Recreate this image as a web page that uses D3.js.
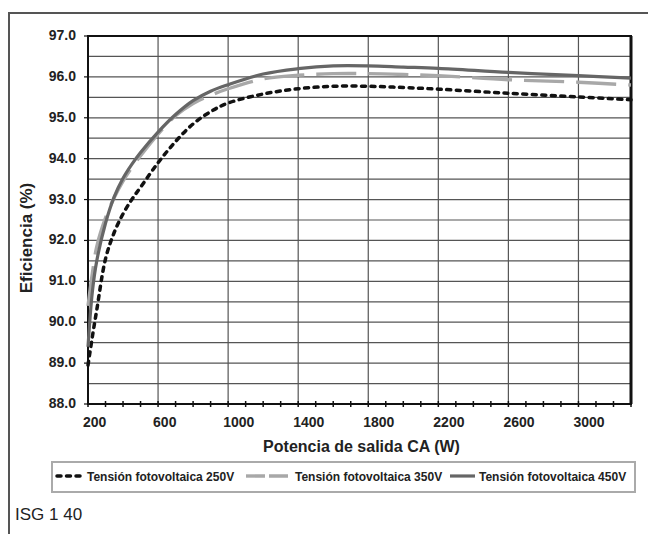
<!DOCTYPE html>
<html>
<head>
<meta charset="utf-8">
<script src="https://cdn.jsdelivr.net/npm/d3@7"></script>
<style>
  body { margin: 0; background: #fff; }
  svg { display: block; font-family: "Liberation Sans", Arial, sans-serif; }
</style>
</head>
<body>
<div id="chart"></div>
<script>
// potencia de salida (W) y eficiencia (%)
const power = [200, 225, 250, 300, 350, 400, 450, 500, 600, 700, 800, 900, 1000, 1200, 1400, 1600, 1800, 2000, 2200, 2600, 3000, 3300];
const eff250 = [88.95, 89.65, 90.3, 91.55, 92.2, 92.65, 93.0, 93.3, 93.9, 94.42, 94.85, 95.15, 95.36, 95.58, 95.71, 95.77, 95.77, 95.74, 95.70, 95.60, 95.51, 95.44];
const eff350 = [90.4, 91.2, 91.85, 92.55, 93.05, 93.45, 93.78, 94.07, 94.6, 95.05, 95.35, 95.55, 95.71, 95.95, 96.04, 96.08, 96.08, 96.06, 96.03, 95.93, 95.87, 95.80];
const eff450 = [89.4, 90.75, 91.5, 92.42, 93.07, 93.52, 93.86, 94.15, 94.65, 95.08, 95.42, 95.65, 95.81, 96.07, 96.20, 96.27, 96.27, 96.24, 96.21, 96.11, 96.03, 95.97];
const seriesNames = ["Tensión fotovoltaica 250V", "Tensión fotovoltaica 350V", "Tensión fotovoltaica 450V"];
const xTicks = [200, 600, 1000, 1400, 1800, 2200, 2600, 3000];
const yTicks = [88, 89, 90, 91, 92, 93, 94, 95, 96, 97];

const width = 648, height = 534;
const margin = { top: 36, right: 17, bottom: 130, left: 88 };

const svg = d3.select("#chart").append("svg")
    .attr("width", width)
    .attr("height", height);

// marco exterior
svg.append("path")
    .attr("d", `M9,${height} L9,13 L${width},13`)
    .attr("fill", "none")
    .attr("stroke", "#555")
    .attr("stroke-width", 2);

const x = d3.scaleLinear().domain([200, 3300]).range([margin.left, width - margin.right]);
const y = d3.scaleLinear().domain([88, 97]).range([height - margin.bottom, margin.top]);

// rejilla horizontal cada 0.5
const yGrid = d3.range(88.5, 97, 0.5);
svg.append("g")
    .selectAll("line")
    .data(yGrid)
    .join("line")
    .attr("x1", x(200)).attr("x2", x(3300))
    .attr("y1", d => y(d)).attr("y2", d => y(d))
    .attr("stroke", "#555")
    .attr("stroke-width", 1.2);

// rejilla vertical
svg.append("g")
    .selectAll("line")
    .data(xTicks.slice(1))
    .join("line")
    .attr("x1", d => x(d)).attr("x2", d => x(d))
    .attr("y1", y(97)).attr("y2", y(88))
    .attr("stroke", "#555")
    .attr("stroke-width", 1.2);

// borde del area
svg.append("rect")
    .attr("x", x(200)).attr("y", y(97))
    .attr("width", x(3300) - x(200))
    .attr("height", y(88) - y(97))
    .attr("fill", "none")
    .attr("stroke", "#111")
    .attr("stroke-width", 2);
svg.append("line")
    .attr("x1", x(3300)).attr("x2", x(3300))
    .attr("y1", y(97)).attr("y2", y(88))
    .attr("stroke", "#111")
    .attr("stroke-width", 3);

// marcas del eje x (cada 100 W)
svg.append("g")
    .selectAll("line")
    .data(d3.range(200, 3301, 100))
    .join("line")
    .attr("x1", d => x(d)).attr("x2", d => x(d))
    .attr("y1", y(88) - 3).attr("y2", y(88) + 3)
    .attr("stroke", "#111")
    .attr("stroke-width", 1.5);

// marcas del eje y
svg.append("g")
    .selectAll("line")
    .data(yTicks)
    .join("line")
    .attr("x1", x(200) - 4).attr("x2", x(200))
    .attr("y1", d => y(d)).attr("y2", d => y(d))
    .attr("stroke", "#111")
    .attr("stroke-width", 1.2);

// etiquetas
svg.append("g")
    .selectAll("text")
    .data(yTicks)
    .join("text")
    .attr("x", 76)
    .attr("y", d => y(d) + 4)
    .attr("text-anchor", "end")
    .style("font-size", "14px")
    .style("font-weight", "bold")
    .attr("fill", "#222")
    .text(d => d.toFixed(1));

svg.append("g")
    .selectAll("text")
    .data(xTicks)
    .join("text")
    .attr("x", d => x(d) - 5)
    .attr("y", 427)
    .attr("text-anchor", "start")
    .style("font-size", "14px")
    .style("font-weight", "bold")
    .attr("fill", "#222")
    .text(d => d);

svg.append("text")
    .attr("x", (x(200) + x(3300)) / 2 + 2)
    .attr("y", 452)
    .attr("text-anchor", "middle")
    .style("font-size", "16px")
    .style("font-weight", "bold")
    .attr("fill", "#222")
    .text("Potencia de salida CA (W)");

svg.append("text")
    .attr("transform", "translate(32,238) rotate(-90)")
    .attr("text-anchor", "middle")
    .style("font-size", "17px")
    .style("font-weight", "bold")
    .attr("fill", "#222")
    .text("Eficiencia (%)");

// series
const styles = [
    { color: "#111", width: 3.5, dash: "4,5.5", cap: "round", legendDash: "4,5.5" },
    { color: "#a8a8a8", width: 3.4, dash: "40,12", cap: "butt", legendDash: "19,4" },
    { color: "#666", width: 3.2, dash: null, cap: "butt", legendDash: null }
];
const series = [eff250, eff350, eff450];

const line = d3.line()
    .x((d, i) => x(power[i]))
    .y(d => y(d))
    .curve(d3.curveCatmullRom.alpha(0.5));

svg.append("g")
    .selectAll("path")
    .data(series)
    .join("path")
    .attr("d", d => line(d))
    .attr("fill", "none")
    .attr("stroke", (d, i) => styles[i].color)
    .attr("stroke-width", (d, i) => styles[i].width)
    .attr("stroke-dasharray", (d, i) => styles[i].dash)
    .attr("stroke-linecap", (d, i) => styles[i].cap);

// leyenda
svg.append("rect")
    .attr("x", 52).attr("y", 462)
    .attr("width", 583).attr("height", 30)
    .attr("fill", "#fff")
    .attr("stroke", "#aaa")
    .attr("stroke-width", 2);

const legendX = [[57, 83, 87], [246, 289, 295], [450, 475, 479]];
const legend = svg.append("g");
seriesNames.forEach((name, i) => {
    legend.append("line")
        .attr("x1", legendX[i][0]).attr("x2", legendX[i][1])
        .attr("y1", 476).attr("y2", 476)
        .attr("stroke", styles[i].color)
        .attr("stroke-width", styles[i].width)
        .attr("stroke-dasharray", styles[i].legendDash)
        .attr("stroke-linecap", styles[i].cap);
    legend.append("text")
        .attr("x", legendX[i][2])
        .attr("y", 481)
        .style("font-size", "12px")
        .style("font-weight", "bold")
        .attr("fill", "#222")
        .text(name);
});

svg.append("text")
    .attr("x", 15)
    .attr("y", 520)
    .style("font-size", "17px")
    .attr("fill", "#222")
    .text("ISG 1 40");
</script>
</body>
</html>
